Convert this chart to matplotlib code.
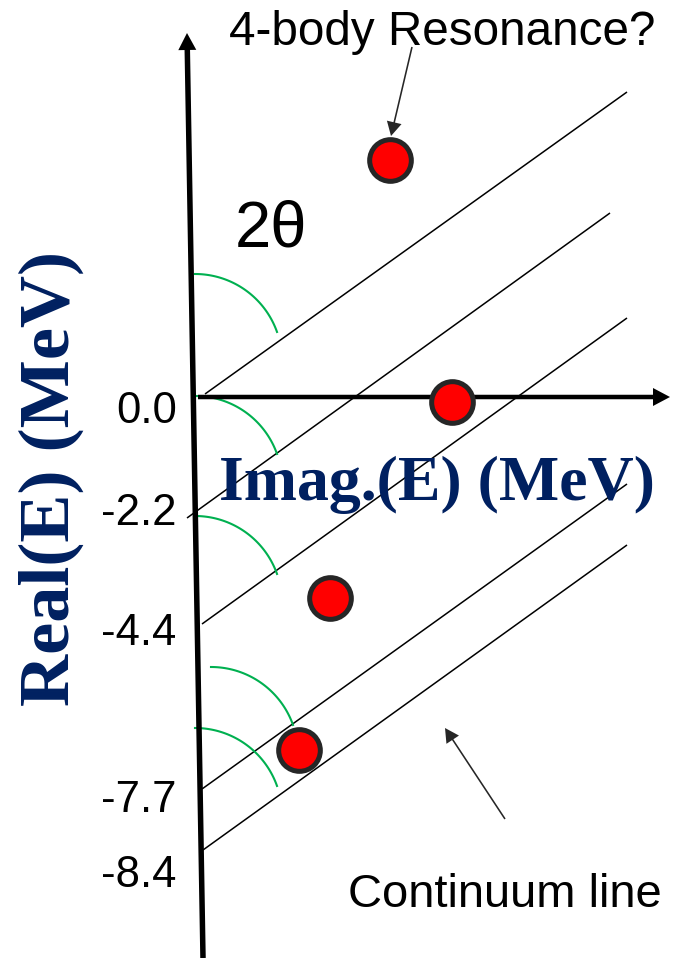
import numpy as np
import matplotlib
matplotlib.use('Agg')
import matplotlib.pyplot as plt

# ---- Diagram data (schematic coordinates, y pointing down) ----
# Resonance poles in the complex energy plane (schematic positions)
pole_imag = [390, 452, 330, 299]
pole_real = [160, 402, 598, 750]

# Continuum lines (rotated by 2θ): start / end points
cont_x0 = [205, 187, 202, 202, 203]
cont_y0 = [394, 518, 624, 789, 850]
cont_x1 = [627, 610, 627, 627, 627]
cont_y1 = [92, 213, 318, 484, 545]

# Starting points of the green 2θ angle arcs
arc_x = [195, 195, 195, 211, 195]
arc_y = [274, 396, 516, 667, 728]

# Real-axis tick labels (thresholds)
tick_labels = ['0.0', '-2.2', '-4.4', '-7.7', '-8.4']
tick_x = [116, 101, 101, 101, 101]
tick_y = [423, 525, 645, 812, 887]

NAVY = '#002060'
GREEN = '#00b050'
DARK = '#262626'

fig = plt.figure(figsize=(6.82, 9.58), dpi=100)
ax = fig.add_axes([0, 0, 1, 1])
ax.set_xlim(0, 682)
ax.set_ylim(958, 0)
ax.axis('off')

# Axes arrows
ax.arrow(203, 958, -16, -925, width=5.5, head_width=18, head_length=17,
         length_includes_head=True, fc='black', ec='none', zorder=3)
ax.arrow(198, 397, 472, 0, width=4.5, head_width=18, head_length=17,
         length_includes_head=True, fc='black', ec='none', zorder=3)

# Continuum lines
for x0, y0, x1, y1 in zip(cont_x0, cont_y0, cont_x1, cont_y1):
    ax.plot([x0, x1], [y0, y1], color='black', lw=1.1, zorder=2,
            solid_capstyle='butt')

# Green angle arcs
r = 87
t = np.radians(np.linspace(90, 19.5, 60))
for x0, y0 in zip(arc_x, arc_y):
    ax.plot(x0 + r * np.cos(t), y0 + r - r * np.sin(t), color=GREEN,
            lw=1.5, zorder=2)

# Poles
ax.plot(pole_imag, pole_real, 'o', ms=30, mfc='#ff0000', mec=DARK,
        mew=3.6, zorder=6, linestyle='none')

# Tick labels
for lab, x, y in zip(tick_labels, tick_x, tick_y):
    ax.text(x, y, lab, fontsize=31.5, family='Liberation Sans',
            ha='left', va='baseline', color='black')

# Texts
ax.text(229, 45, '4-body Resonance?', fontsize=34.3,
        family='Liberation Sans', ha='left', va='baseline')
ax.text(235, 246, '2θ', fontsize=47, family='Liberation Sans',
        ha='left', va='baseline')
ax.text(348, 907, 'Continuum line', fontsize=33.9,
        family='Liberation Sans', ha='left', va='baseline')
ax.text(219, 500, 'Imag.(E) (MeV)', fontsize=46, family='Liberation Serif',
        fontweight='bold', color=NAVY, ha='left', va='baseline', zorder=4)
ax.text(51, 478, 'Real(E) (MeV)', fontsize=52, family='Liberation Serif',
        fontweight='bold', color=NAVY, ha='center', va='center',
        rotation=90)

# Annotation arrows
ax.arrow(412, 47, -21, 89, width=1.6, head_width=15, head_length=14,
         length_includes_head=True, fc=DARK, ec='none', zorder=5)
ax.arrow(505, 819, -60, -91, width=1.6, head_width=15, head_length=14,
         length_includes_head=True, fc=DARK, ec='none', zorder=5)

fig.savefig('out.png', dpi=100)
